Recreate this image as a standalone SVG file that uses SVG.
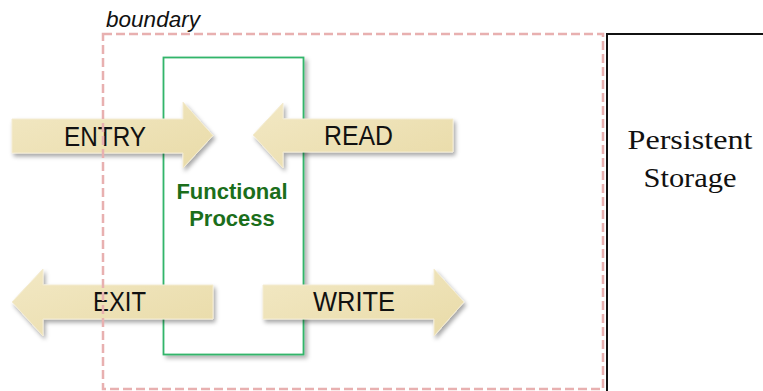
<svg xmlns="http://www.w3.org/2000/svg" width="763" height="391" viewBox="0 0 763 391">
  <defs>
    <linearGradient id="arrowFill" x1="0" y1="0" x2="1" y2="1">
      <stop offset="0" stop-color="#f2e8c4"/>
      <stop offset="1" stop-color="#e9dba8"/>
    </linearGradient>
    <filter id="shadow" x="-10%" y="-20%" width="130%" height="150%">
      <feDropShadow dx="2" dy="3" stdDeviation="2" flood-color="#000" flood-opacity="0.35"/>
    </filter>
    <filter id="boxShadow" x="-10%" y="-10%" width="130%" height="120%">
      <feDropShadow dx="3" dy="3" stdDeviation="2" flood-color="#000" flood-opacity="0.3"/>
    </filter>
  </defs>
  <style>
    .arrow { fill: url(#arrowFill); stroke: #f4ecd2; stroke-width: 1; filter: url(#shadow); }
    .alabel { font-family: "Liberation Sans", Arial, sans-serif; font-size: 27px; fill: #111; text-anchor: start; }
    .fp { font-family: "Liberation Sans", Arial, sans-serif; font-size: 22px; font-weight: bold; fill: #1b6e1b; text-anchor: middle; }
    .ps { font-family: "Liberation Serif", "Times New Roman", serif; font-size: 27px; fill: #111; text-anchor: middle; }
  </style>
  <rect width="763" height="391" fill="#ffffff"/>

  <g id="persistent-storage">
    <path d="M607,392 L607,34 L764,34" fill="none" stroke="#111" stroke-width="2"/>
    <text class="ps" x="690" y="149" textLength="125" lengthAdjust="spacingAndGlyphs">Persistent</text>
    <text class="ps" x="690" y="187" textLength="93" lengthAdjust="spacingAndGlyphs">Storage</text>
  </g>

  <g id="functional-process">
    <rect x="163.5" y="57.5" width="140" height="297" fill="#ffffff" stroke="#33b56a" stroke-width="1.8" filter="url(#boxShadow)"/>
    <text class="fp" x="232" y="199">Functional</text>
    <text class="fp" x="232" y="226">Process</text>
  </g>

  <g id="connectors">
    <g id="entry">
      <path class="arrow" d="M12,119 L183,119 L183,102 L213,135.5 L183,168 L183,153 L12,153 Z"/>
      <text class="alabel" x="64" y="146" textLength="82" lengthAdjust="spacingAndGlyphs">ENTRY</text>
    </g>
    <g id="read">
      <path class="arrow" d="M453,119 L283,119 L283,103 L253,135 L283,168 L283,152 L453,152 Z"/>
      <text class="alabel" x="324" y="145" textLength="69" lengthAdjust="spacingAndGlyphs">READ</text>
    </g>
    <g id="exit">
      <path class="arrow" d="M213,285 L43,285 L43,269 L12,302 L43,336 L43,319 L213,319 Z"/>
      <text class="alabel" x="93" y="311" textLength="53" lengthAdjust="spacingAndGlyphs">EXIT</text>
    </g>
    <g id="write">
      <path class="arrow" d="M263,285 L434,285 L434,269 L464,302 L434,336 L434,319 L263,319 Z"/>
      <text class="alabel" x="313" y="311" textLength="82" lengthAdjust="spacingAndGlyphs">WRITE</text>
    </g>
  </g>

  <g id="boundary">
    <rect x="103" y="34" width="500" height="355" fill="none" stroke="#e8b0b0" stroke-width="2.5" stroke-dasharray="9 4"/>
    <text x="106" y="27" font-family="Liberation Sans, Arial, sans-serif" font-style="italic" font-size="22" fill="#111" textLength="94" lengthAdjust="spacingAndGlyphs">boundary</text>
  </g>
</svg>
